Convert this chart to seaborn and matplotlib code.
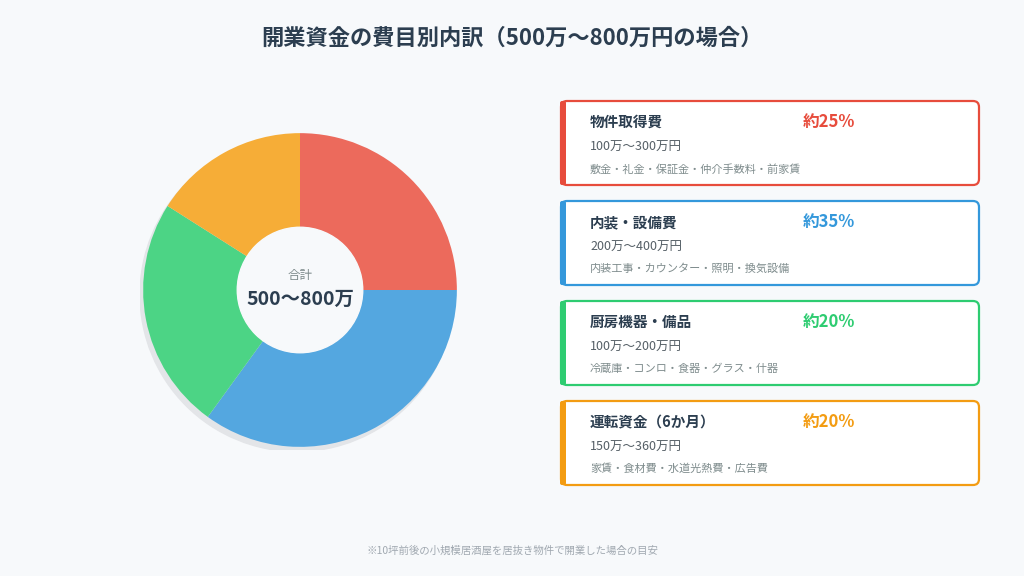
import matplotlib
matplotlib.use("Agg")
import matplotlib.pyplot as plt
import seaborn as sns
from matplotlib.patches import FancyBboxPatch, Circle

sns.set_theme(style="white")
plt.rcParams['font.family'] = ['Noto Sans CJK JP', 'DejaVu Sans']

## データ
categories = ['物件取得費', '内装・設備費', '厨房機器・備品', '運転資金（6か月）']
pie_values = [25, 35, 24, 16]
pct_labels = ['約25%', '約35%', '約20%', '約20%']
ranges = ['100万〜300万円', '200万〜400万円', '100万〜200万円', '150万〜360万円']
details = ['敷金・礼金・保証金・仲介手数料・前家賃',
           '内装工事・カウンター・照明・換気設備',
           '冷蔵庫・コンロ・食器・グラス・什器',
           '家賃・食材費・水道光熱費・広告費']
slice_colors = ['#ec6a5c', '#54a7e0', '#4cd485', '#f6ad37']
card_colors = ['#e74c3c', '#3498db', '#2ecc71', '#f39c12']

bg = '#f7f9fb'
fig = plt.figure(figsize=(10.24, 5.76), dpi=100, facecolor=bg)

## ドーナツ
ax = fig.add_axes([140/1024, (576-450)/576, 320/1024, 320/576])
ax.set_facecolor(bg)
ax.add_patch(Circle((-0.02, -0.03), 1.0, color='#e3e5e8', zorder=0))
ax.pie(pie_values, colors=slice_colors, startangle=90, counterclock=False,
       radius=1, wedgeprops=dict(width=0.6, linewidth=0))
ax.add_patch(Circle((0, 0), 0.4, color=bg, zorder=5))
ax.text(0, 0.09, '合計', ha='center', va='center', fontsize=9, color='#7f8c8d', zorder=6)
ax.text(0, -0.06, '500〜800万', ha='center', va='center', fontsize=14,
        fontweight='bold', color='#2c3e50', zorder=6)
ax.set_xlim(-1.02, 1.02)
ax.set_ylim(-1.02, 1.02)
ax.set_aspect('equal')
ax.axis('off')

## カードとテキスト
ov = fig.add_axes([0, 0, 1, 1])
ov.set_xlim(0, 1024)
ov.set_ylim(576, 0)
ov.axis('off')
ov.patch.set_alpha(0)

ov.text(512, 38, '開業資金の費目別内訳（500万〜800万円の場合）', ha='center', va='center',
        fontsize=16, fontweight='bold', color='#2c3e50')

for i in range(4):
    y0 = 100 + i * 100
    ov.add_patch(FancyBboxPatch((561, y0 + 1), 418, 84, boxstyle='round,pad=0,rounding_size=6',
                                facecolor='white', edgecolor=card_colors[i], linewidth=1.6))
    ov.add_patch(FancyBboxPatch((560, y0 + 1), 6, 84, boxstyle='round,pad=0,rounding_size=2',
                                facecolor=card_colors[i], edgecolor='none'))
    ov.text(590, y0 + 22, categories[i], fontsize=10.5, fontweight='bold',
            color='#2c3e50', va='center')
    ov.text(803, y0 + 22, pct_labels[i], fontsize=12, fontweight='bold',
            color=card_colors[i], va='center')
    ov.text(590, y0 + 47, ranges[i], fontsize=9, color='#555f66', va='center')
    ov.text(590, y0 + 69, details[i], fontsize=8, color='#7f8c8d', va='center')

ov.text(512, 550, '※10坪前後の小規模居酒屋を居抜き物件で開業した場合の目安', ha='center',
        va='center', fontsize=7.5, color='#a0a8b0')

fig.savefig('out.png', dpi=100, facecolor=bg)
